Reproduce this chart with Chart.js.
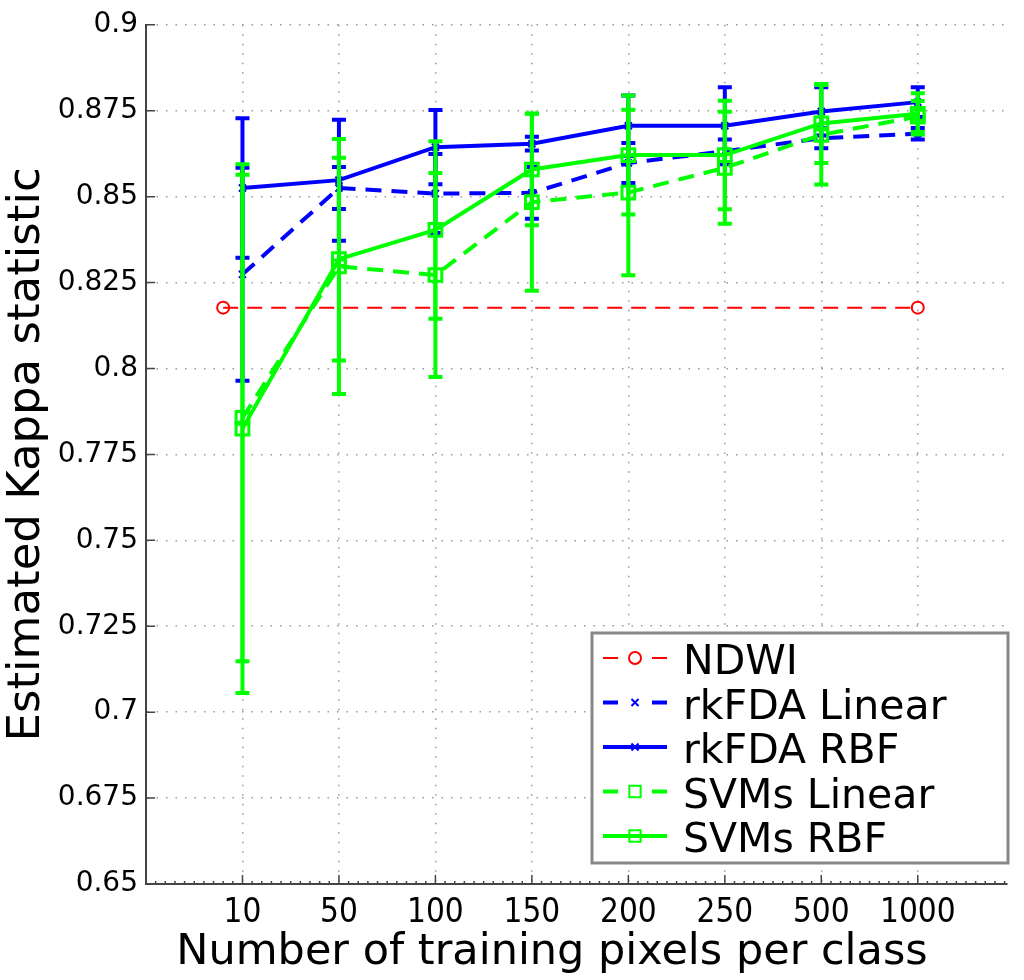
<!DOCTYPE html>
<html>
<head>
<meta charset="utf-8">
<script src="https://cdn.jsdelivr.net/npm/chart.js@4.4.1/dist/chart.umd.min.js"></script>
<style>
html, body { margin: 0; padding: 0; background: #fff; }
</style>
</head>
<body>
<canvas id="kappaChart" width="1024" height="980"></canvas>
<script>
// training set sizes (x categories) and y tick values
var categories = ['10', '50', '100', '150', '200', '250', '500', '1000'];
var yTicks = [0.65, 0.675, 0.7, 0.725, 0.75, 0.775, 0.8, 0.825, 0.85, 0.875, 0.9];

// NDWI is a flat reference line, drawn a bit left of the first category
var ndwiX = [0.8, 8];
var ndwiKappa = [0.8177, 0.8177];

var rkfdaLinear    = [0.8274, 0.8525, 0.8509, 0.8511, 0.8598, 0.8632, 0.8670, 0.8683];
var rkfdaLinearErr = [0.0310, 0.0061, 0.0115, 0.0075, 0.0058, 0.0034, 0.0029, 0.0017];
var rkfdaRbf       = [0.8525, 0.8548, 0.8644, 0.8654, 0.8706, 0.8706, 0.8748, 0.8775];
var rkfdaRbfErr    = [0.0203, 0.0176, 0.0108, 0.0020, 0.0088, 0.0112, 0.0070, 0.0043];
var svmLinear      = [0.7856, 0.8297, 0.8272, 0.8484, 0.8512, 0.8584, 0.8680, 0.8733];
var svmLinearErr   = [0.0708, 0.0371, 0.0297, 0.0258, 0.0241, 0.0163, 0.0145, 0.0045];
var svmRbf         = [0.7825, 0.8318, 0.8403, 0.8579, 0.8621, 0.8621, 0.8713, 0.8741];
var svmRbfErr      = [0.0769, 0.0295, 0.0258, 0.0162, 0.0173, 0.0158, 0.0115, 0.0060];

function toPoints(values) {
    return values.map(function(v, i) { return { x: i + 1, y: v }; });
}

var BLUE = '#0000ff', GREEN = '#00ff00', RED = '#ff0000';

var errorBars = {
    id: 'errorBars',
    afterDatasetDraw: function(chart, args) {
        var ds = chart.data.datasets[args.index];
        if (!ds.errors) return;
        var ctx = chart.ctx, xs = chart.scales.x, ys = chart.scales.y;
        ctx.save();
        ctx.strokeStyle = ds.borderColor;
        ctx.lineWidth = 4;
        ctx.setLineDash([]);
        ds.data.forEach(function(pt, i) {
            var e = ds.errors[i];
            var x = xs.getPixelForValue(pt.x);
            var top = ys.getPixelForValue(pt.y + e);
            var bot = ys.getPixelForValue(pt.y - e);
            ctx.beginPath();
            ctx.moveTo(x, top); ctx.lineTo(x, bot);
            ctx.moveTo(x - 7, top); ctx.lineTo(x + 7, top);
            ctx.moveTo(x - 7, bot); ctx.lineTo(x + 7, bot);
            ctx.stroke();
        });
        ctx.restore();
    }
};

function drawMarker(ctx, style, x, y, r) {
    ctx.beginPath();
    if (style === 'circle') {
        ctx.arc(x, y, r, 0, Math.PI * 2);
    } else if (style === 'rect') {
        var s = r * Math.SQRT1_2;
        ctx.rect(x - s, y - s, 2 * s, 2 * s);
    } else {
        var d = r * Math.SQRT1_2;
        ctx.moveTo(x - d, y - d); ctx.lineTo(x + d, y + d);
        ctx.moveTo(x - d, y + d); ctx.lineTo(x + d, y - d);
    }
    ctx.stroke();
}

// inward ticks (major + x minor), legend box and x title
var decorations = {
    id: 'decorations',
    afterDraw: function(chart) {
        var ctx = chart.ctx, xs = chart.scales.x, ys = chart.scales.y, a = chart.chartArea;
        ctx.save();
        ctx.strokeStyle = '#444';
        ctx.lineWidth = 1.5;
        ctx.beginPath();
        yTicks.forEach(function(v) {
            var y = ys.getPixelForValue(v);
            ctx.moveTo(a.left, y); ctx.lineTo(a.left + 9, y);
        });
        categories.forEach(function(c, i) {
            var x = xs.getPixelForValue(i + 1);
            ctx.moveTo(x, a.bottom); ctx.lineTo(x, a.bottom - 9);
        });
        for (var m = 1; m < 90; m++) {
            var xm = xs.getPixelForValue(m / 10);
            if (xm > a.right) break;
            ctx.moveTo(xm, a.bottom); ctx.lineTo(xm, a.bottom - 3);
        }
        ctx.stroke();

        // legend
        ctx.fillStyle = '#fff';
        ctx.fillRect(592, 633, 416, 230);
        ctx.strokeStyle = '#888';
        ctx.lineWidth = 3;
        ctx.strokeRect(592, 633, 416, 230);
        chart.data.datasets.forEach(function(ds, i) {
            var y = 658 + i * 44.5;
            ctx.strokeStyle = ds.borderColor;
            ctx.lineWidth = ds.borderWidth;
            ctx.setLineDash([]);
            ctx.beginPath();
            if (ds.borderDash && ds.borderDash.length) {
                ctx.moveTo(603, y); ctx.lineTo(618, y);
                ctx.moveTo(652, y); ctx.lineTo(667, y);
            } else {
                ctx.moveTo(603, y); ctx.lineTo(667, y);
            }
            ctx.stroke();
            ctx.lineWidth = 2;
            drawMarker(ctx, ds.pointStyle, 635, y, ds.pointStyle === 'rect' ? 8 : ds.pointRadius);
            ctx.fillStyle = '#000';
            ctx.font = '41px "DejaVu Sans"';
            ctx.textAlign = 'left';
            ctx.textBaseline = 'alphabetic';
            ctx.fillText(ds.label, 683, y + 16);
        });

        ctx.fillStyle = '#000';
        ctx.font = '43px "DejaVu Sans"';
        ctx.textAlign = 'center';
        ctx.fillText('Number of training pixels per class', 552, 964);
        ctx.restore();
    }
};

var ctx = document.getElementById('kappaChart').getContext('2d');

var kappaChart = new Chart(ctx, {
    type: 'line',
    data: {
        datasets: [{
            label: 'NDWI',
            data: ndwiX.map(function(x, i) { return { x: x, y: ndwiKappa[i] }; }),
            borderColor: RED,
            borderWidth: 2,
            borderDash: [15, 9],
            pointStyle: 'circle',
            pointRadius: 6,
            pointBorderWidth: 2,
            pointBackgroundColor: 'rgba(0,0,0,0)',
            order: 5
        }, {
            label: 'rkFDA Linear',
            data: toPoints(rkfdaLinear),
            errors: rkfdaLinearErr,
            borderColor: BLUE,
            borderWidth: 4,
            borderDash: [16, 10],
            pointStyle: 'crossRot',
            pointRadius: 5,
            pointBorderWidth: 2,
            order: 4
        }, {
            label: 'rkFDA RBF',
            data: toPoints(rkfdaRbf),
            errors: rkfdaRbfErr,
            borderColor: BLUE,
            borderWidth: 4,
            pointStyle: 'crossRot',
            pointRadius: 5,
            pointBorderWidth: 2,
            order: 3
        }, {
            label: 'SVMs Linear',
            data: toPoints(svmLinear),
            errors: svmLinearErr,
            borderColor: GREEN,
            borderWidth: 4,
            borderDash: [16, 10],
            pointStyle: 'rect',
            pointRadius: 9,
            pointBorderWidth: 3,
            pointBackgroundColor: 'rgba(0,0,0,0)',
            order: 2
        }, {
            label: 'SVMs RBF',
            data: toPoints(svmRbf),
            errors: svmRbfErr,
            borderColor: GREEN,
            borderWidth: 4,
            pointStyle: 'rect',
            pointRadius: 9,
            pointBorderWidth: 3,
            pointBackgroundColor: 'rgba(0,0,0,0)',
            order: 1
        }]
    },
    options: {
        responsive: false,
        animation: false,
        devicePixelRatio: 1,
        layout: { padding: { top: 24, right: 17, left: 0, bottom: 0 } },
        elements: { line: { tension: 0, fill: false } },
        plugins: { legend: { display: false }, tooltip: { enabled: false } },
        scales: {
            x: {
                type: 'linear',
                min: 0,
                max: 8.925,
                afterBuildTicks: function(scale) {
                    scale.ticks = categories.map(function(c, i) { return { value: i + 1 }; });
                },
                afterFit: function(scale) { scale.height = 96; },
                ticks: {
                    callback: function(value) { return categories[Math.round(value) - 1]; },
                    font: { family: '"Liberation Sans Narrow", "DejaVu Sans Condensed", sans-serif', size: 33 },
                    color: '#000',
                    padding: 10,
                    maxRotation: 0,
                    autoSkip: false
                },
                grid: { color: '#999', lineWidth: 1.5, drawTicks: false },
                border: { display: true, color: '#444', width: 2, dash: [1.5, 8] }
            },
            y: {
                min: 0.65,
                max: 0.9,
                afterBuildTicks: function(scale) {
                    scale.ticks = yTicks.map(function(v) { return { value: v }; });
                },
                afterFit: function(scale) { scale.width = 146; },
                ticks: {
                    callback: function(value) { return String(+value.toFixed(3)); },
                    font: { family: '"DejaVu Sans"', size: 28 },
                    color: '#000',
                    padding: 8
                },
                title: {
                    display: true,
                    text: 'Estimated Kappa statistic',
                    font: { family: '"DejaVu Sans"', size: 45 },
                    color: '#000',
                    padding: { top: 0, bottom: 0 }
                },
                grid: { color: '#999', lineWidth: 1.5, drawTicks: false },
                border: { display: true, color: '#444', width: 2, dash: [1.5, 8] }
            }
        }
    },
    plugins: [errorBars, decorations]
});
</script>
</body>
</html>
